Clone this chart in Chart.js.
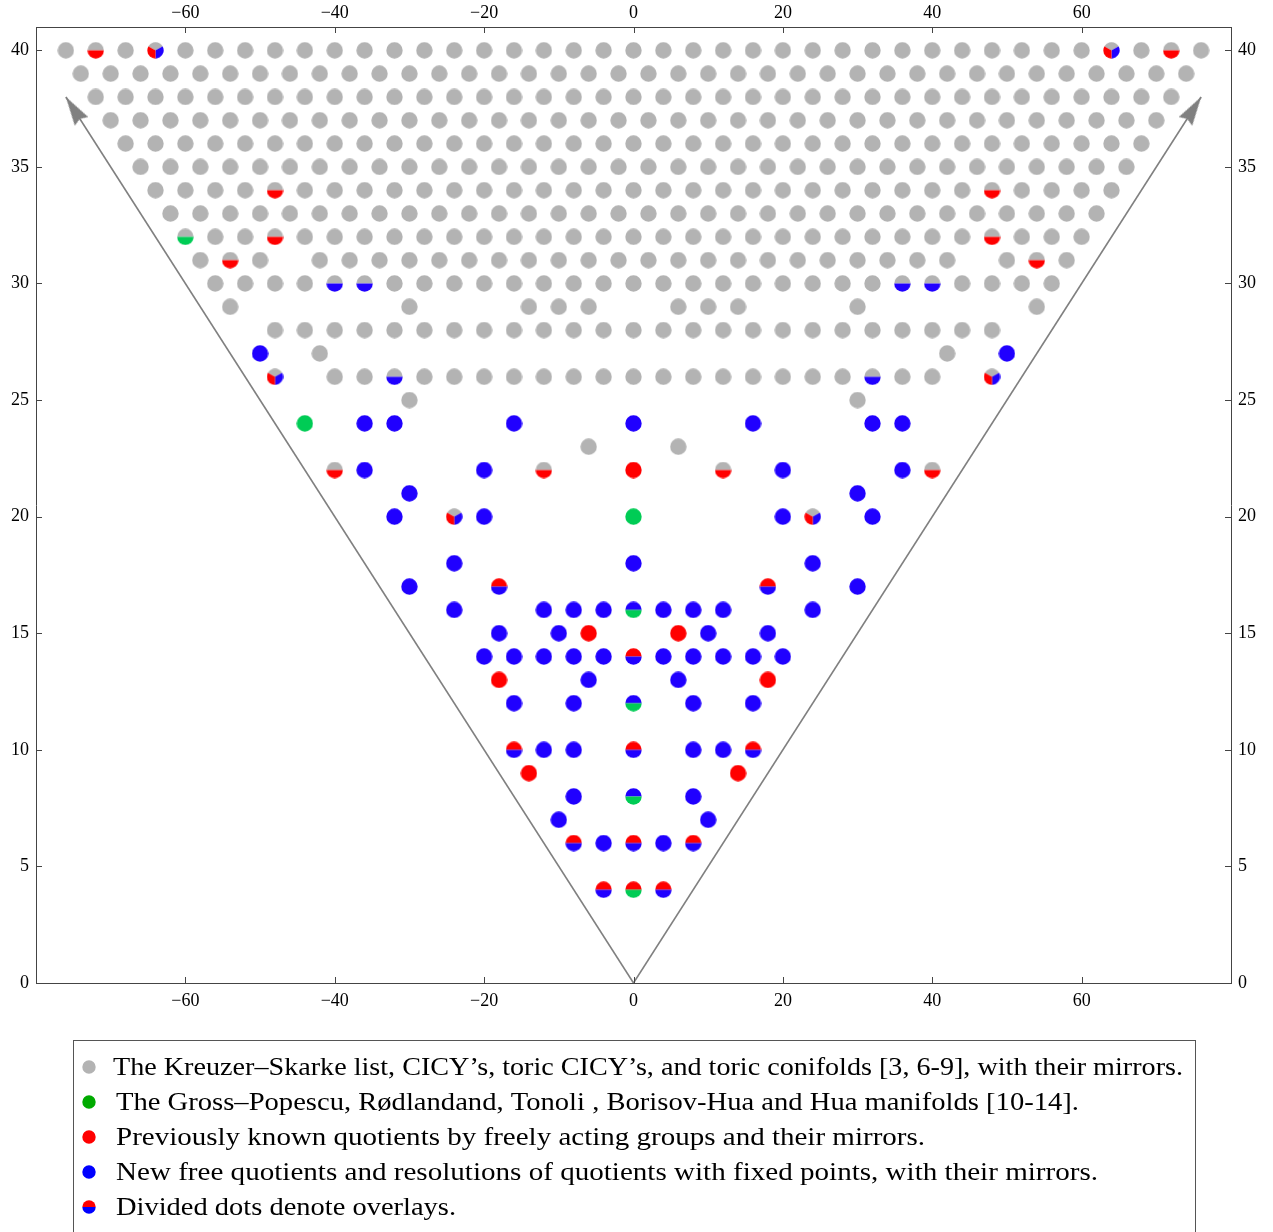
<!DOCTYPE html>
<html><head><meta charset="utf-8">
<script src="https://cdn.jsdelivr.net/npm/chart.js@4.4.1/dist/chart.umd.min.js"></script>
<style>html,body{margin:0;padding:0;background:#fff;}#wrap{width:1273px;height:1232px;position:relative;}</style>
</head><body><div id="wrap"><canvas id="c"></canvas></div>
<script>
// ---------- data ----------
const xTickValues = [-60,-40,-20,0,20,40,60];
const yTickValues = [0,5,10,15,20,25,30,35,40];

// Kreuzer–Skarke etc. (grey) dots, row by row (h11+h21 = y, chi = x)
const greyRowY = [40,39,38,37,36,35,34,33,32,31,30,29,28,27,26,25,23];
const greyRowX = [
  [-76,-68,-60,-56,-52,-48,-44,-40,-36,-32,-28,-24,-20,-16,-12,-8,-4,0,4,8,12,16,20,24,28,32,36,40,44,48,52,56,60,68,76],
  [-74,-70,-66,-62,-58,-54,-50,-46,-42,-38,-34,-30,-26,-22,-18,-14,-10,-6,-2,2,6,10,14,18,22,26,30,34,38,42,46,50,54,58,62,66,70,74],
  [-72,-68,-64,-60,-56,-52,-48,-44,-40,-36,-32,-28,-24,-20,-16,-12,-8,-4,0,4,8,12,16,20,24,28,32,36,40,44,48,52,56,60,64,68,72],
  [-70,-66,-62,-58,-54,-50,-46,-42,-38,-34,-30,-26,-22,-18,-14,-10,-6,-2,2,6,10,14,18,22,26,30,34,38,42,46,50,54,58,62,66,70],
  [-68,-64,-60,-56,-52,-48,-44,-40,-36,-32,-28,-24,-20,-16,-12,-8,-4,0,4,8,12,16,20,24,28,32,36,40,44,48,52,56,60,64,68],
  [-66,-62,-58,-54,-50,-46,-42,-38,-34,-30,-26,-22,-18,-14,-10,-6,-2,2,6,10,14,18,22,26,30,34,38,42,46,50,54,58,62,66],
  [-64,-60,-56,-52,-44,-40,-36,-32,-28,-24,-20,-16,-12,-8,-4,0,4,8,12,16,20,24,28,32,36,40,44,52,56,60,64],
  [-62,-58,-54,-50,-46,-42,-38,-34,-30,-26,-22,-18,-14,-10,-6,-2,2,6,10,14,18,22,26,30,34,38,42,46,50,54,58,62],
  [-56,-52,-44,-40,-36,-32,-28,-24,-20,-16,-12,-8,-4,0,4,8,12,16,20,24,28,32,36,40,44,52,56,60],
  [-58,-50,-42,-38,-34,-30,-26,-22,-18,-14,-10,-6,-2,2,6,10,14,18,22,26,30,34,38,42,50,58],
  [-56,-52,-48,-44,-32,-28,-24,-20,-16,-12,-8,-4,0,4,8,12,16,20,24,28,32,44,48,52,56],
  [-54,-30,-14,-10,-6,6,10,14,30,54],
  [-48,-44,-40,-36,-32,-28,-24,-20,-16,-12,-8,-4,0,4,8,12,16,20,24,28,32,36,40,44,48],
  [-42,42],
  [-40,-36,-28,-24,-20,-16,-12,-8,-4,0,4,8,12,16,20,24,28,36,40],
  [-30,30],
  [-6,6]
];

const greenPts = [[-44,24],[0,20]];
const redPts = [[0,22],[-6,15],[6,15],[-18,13],[18,13],[-14,9],[14,9]];
const bluePts = [[-50,27],[50,27],[-36,24],[-32,24],[-16,24],[0,24],[16,24],[32,24],[36,24],
  [-36,22],[-20,22],[20,22],[36,22],[-30,21],[30,21],[-32,20],[-20,20],[20,20],[32,20],
  [-24,18],[0,18],[24,18],[-30,17],[30,17],
  [-24,16],[-12,16],[-8,16],[-4,16],[4,16],[8,16],[12,16],[24,16],
  [-18,15],[-10,15],[10,15],[18,15],
  [-20,14],[-16,14],[-12,14],[-8,14],[-4,14],[4,14],[8,14],[12,14],[16,14],[20,14],
  [-6,13],[6,13],[-16,12],[-8,12],[8,12],[16,12],
  [-12,10],[-8,10],[8,10],[12,10],[-8,8],[8,8],[-10,7],[10,7],[-4,6],[4,6]];
const greyRedPts = [[-72,40],[72,40],[-48,34],[48,34],[-48,32],[48,32],[-54,31],[54,31],[-40,22],[40,22],[-12,22],[12,22]];
const greyBluePts = [[-40,30],[-36,30],[36,30],[40,30],[-32,26],[32,26]];
const greyGreenPts = [[-60,32]];
const greyRedBluePts = [[-64,40],[64,40],[-48,26],[48,26],[-24,20],[24,20]];
const redBluePts = [[-18,17],[18,17],[0,14],[-16,10],[16,10],[0,10],[-8,6],[8,6],[0,6],[-4,4],[4,4]];
const blueGreenPts = [[0,16],[0,12],[0,8]];
const redGreenPts = [[0,4]];

const arrowLeft = [[0,0],[-76,38]];
const arrowRight = [[0,0],[76,38]];

const legendLabels = [
  "The Kreuzer\u2013Skarke list, CICY\u2019s, toric CICY\u2019s, and toric conifolds [3, 6-9], with their mirrors.",
  "The Gross\u2013Popescu, R\u00f8dlandand, Tonoli , Borisov-Hua and Hua manifolds [10-14].",
  "Previously known quotients by freely acting groups and their mirrors.",
  "New free quotients and resolutions of quotients with fixed points, with their mirrors.",
  "Divided dots denote overlays."
];

// ---------- styles ----------
const GREY = '#b3b3b3', RED = '#ff0000', BLUE = '#2000ff', GREEN = '#00cc55';
const L_GREEN = '#00aa00', L_BLUE = '#0000ff';
const PI = Math.PI;
// rendered width (px) of each legend line, matched to the reference typesetting
const legendTextWidths = [1070, 963, 809, 982, 340];
function makeDot(d, parts) {
  const c = document.createElement('canvas');
  c.width = d; c.height = d;
  const g = c.getContext('2d');
  const r = d / 2 - 0.3, m = d / 2;
  for (const [col, a0, a1] of parts) {
    g.beginPath(); g.moveTo(m, m); g.arc(m, m, r, a0, a1); g.closePath();
    g.fillStyle = col; g.fill();
  }
  return c;
}
const D = 17;
const full = col => [[col, 0, 2 * PI]];
const half = (top, bot) => [[top, PI, 2 * PI], [bot, 0, PI]];
const three = (top, right, left) => [[top, -5 * PI / 6, -PI / 6], [right, -PI / 6, PI / 2], [left, PI / 2, 7 * PI / 6]];

function makeArrow() {
  const c = document.createElement('canvas');
  c.width = 20; c.height = 66;
  const g = c.getContext('2d');
  g.beginPath();
  g.moveTo(10, 33); g.lineTo(18, 62); g.lineTo(10, 59); g.lineTo(2, 62); g.closePath();
  g.fillStyle = '#808080'; g.fill();
  return c;
}
const arrowImg = makeArrow();

const toPts = arr => arr.map(([x, y]) => ({ x, y }));
const greyPts = greyRowY.flatMap((y, i) => greyRowX[i].map(x => ({ x, y })));

function dotSet(label, data, img, order) {
  return { label, data, pointStyle: img, pointRadius: 8, pointHoverRadius: 8, showLine: false, order };
}
function arrowSet(label, arr) {
  return {
    label, type: 'line', data: toPts(arr), showLine: true, borderColor: '#808080', borderWidth: 1.6,
    pointRadius: [0, 5], pointStyle: arrowImg, order: 30, fill: false,
    pointRotation: (c) => {
      const ch = c.chart, xs = ch.scales.x, ys = ch.scales.y, d = c.dataset.data;
      const dx = xs.getPixelForValue(d[1].x) - xs.getPixelForValue(d[0].x);
      const dy = ys.getPixelForValue(d[1].y) - ys.getPixelForValue(d[0].y);
      return Math.atan2(dx, -dy) * 180 / PI;
    }
  };
}

const fmt = v => String(v).replace('-', '\u2212');
const tickFont = { family: '"Liberation Serif", "DejaVu Serif", serif', size: 18 };
function axis(pos, axisName, pad, extra) {
  const isX = axisName === 'x';
  return Object.assign({
    type: 'linear', position: pos, axis: axisName,
    min: isX ? -80 : 0, max: isX ? 80 : 41,
    grid: { display: false, drawTicks: false },
    border: { display: true, color: '#444', width: 1 },
    afterBuildTicks: s => { s.ticks = (isX ? xTickValues : yTickValues).map(v => ({ value: v })); },
    ticks: { font: tickFont, color: '#000', padding: pad, callback: fmt, maxRotation: 0, autoSkip: false }
  }, extra);
}

const innerTicks = {
  id: 'innerTicks',
  afterDraw(chart) {
    const { ctx, chartArea: a, scales } = chart;
    ctx.save(); ctx.strokeStyle = '#444'; ctx.lineWidth = 1; ctx.beginPath();
    for (const v of xTickValues) {
      const px = Math.round(scales.x.getPixelForValue(v)) + 0.5;
      ctx.moveTo(px, a.bottom); ctx.lineTo(px, a.bottom - 6);
      ctx.moveTo(px, a.top); ctx.lineTo(px, a.top + 6);
    }
    for (const v of yTickValues) {
      const py = Math.round(scales.y.getPixelForValue(v)) + 0.5;
      ctx.moveTo(a.left, py); ctx.lineTo(a.left + 6, py);
      ctx.moveTo(a.right, py); ctx.lineTo(a.right - 6, py);
    }
    ctx.stroke(); ctx.restore();
  }
};

const legendDots = [makeDot(14, full(GREY)), makeDot(14, full(L_GREEN)), makeDot(14, full(RED)), makeDot(14, full(L_BLUE)), makeDot(14, half(RED, L_BLUE))];
const boxLegend = {
  id: 'boxLegend',
  afterDraw(chart) {
    const ctx = chart.ctx;
    ctx.save();
    ctx.strokeStyle = '#555'; ctx.lineWidth = 1;
    ctx.strokeRect(73.5, 1040.5, 1122, 260);
    ctx.font = '25px "Liberation Serif", "DejaVu Serif", serif';
    ctx.fillStyle = '#000'; ctx.textBaseline = 'middle'; ctx.textAlign = 'left';
    legendLabels.forEach((t, i) => {
      const y = 1067 + 35 * i;
      ctx.drawImage(legendDots[i], 82, y - 7);
      const x0 = i === 0 ? 113 : 116;
      const sx = legendTextWidths[i] / ctx.measureText(t).width;
      ctx.save();
      ctx.translate(x0, y + 1);
      ctx.scale(sx, 1);
      ctx.fillText(t, 0, 0);
      ctx.restore();
    });
    ctx.restore();
  }
};

new Chart(document.getElementById('c'), {
  type: 'scatter',
  data: {
    datasets: [
      arrowSet('arrow left', arrowLeft),
      arrowSet('arrow right', arrowRight),
      dotSet('Kreuzer–Skarke', greyPts, makeDot(D, full(GREY)), 20),
      dotSet('Gross–Popescu et al.', toPts(greenPts), makeDot(D, full(GREEN)), 10),
      dotSet('Previously known quotients', toPts(redPts), makeDot(D, full(RED)), 10),
      dotSet('New quotients', toPts(bluePts), makeDot(D, full(BLUE)), 10),
      dotSet('grey/red', toPts(greyRedPts), makeDot(D, half(GREY, RED)), 10),
      dotSet('grey/blue', toPts(greyBluePts), makeDot(D, half(GREY, BLUE)), 10),
      dotSet('grey/green', toPts(greyGreenPts), makeDot(D, half(GREY, GREEN)), 10),
      dotSet('grey/red/blue', toPts(greyRedBluePts), makeDot(D, three(GREY, BLUE, RED)), 10),
      dotSet('red/blue', toPts(redBluePts), makeDot(D, half(RED, BLUE)), 10),
      dotSet('blue/green', toPts(blueGreenPts), makeDot(D, half(BLUE, GREEN)), 10),
      dotSet('red/green', toPts(redGreenPts), makeDot(D, half(RED, GREEN)), 10)
    ]
  },
  options: {
    responsive: true, maintainAspectRatio: false, animation: false, events: [],
    layout: { padding: 0 },
    plugins: { legend: { display: false }, tooltip: { enabled: false } },
    scales: {
      x: axis('bottom', 'x', 7, { afterFit: s => { s.height = 249; } }),
      x2: axis('top', 'x', 3, { afterFit: s => { s.height = 27; } }),
      y: axis('left', 'y', 7, { afterFit: s => { s.width = 36; } }),
      y2: axis('right', 'y', 7, { afterFit: s => { s.width = 42; } })
    }
  },
  plugins: [innerTicks, boxLegend]
});
</script></body></html>
